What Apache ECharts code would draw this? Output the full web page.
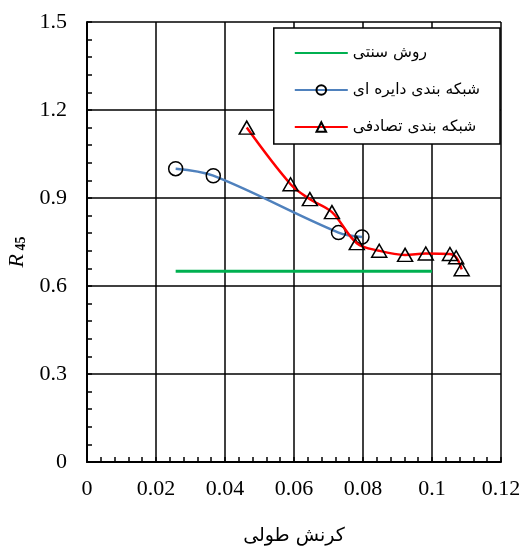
<!DOCTYPE html>
<html>
<head>
<meta charset="utf-8">
<script src="https://cdn.jsdelivr.net/npm/echarts@6/dist/echarts.min.js"></script>
<style>html,body{margin:0;padding:0;background:#fff}#c{width:525px;height:546px}</style>
</head>
<body>
<div id="c"></div>
<script>
// ---- data ----
const seriesNames = ['روش سنتی', 'شبکه بندی دایره ای', 'شبکه بندی تصادفی'];
const traditionalX = [0.0257, 0.1];
const traditionalY = [0.65, 0.65];
const circularX = [0.0257, 0.0366, 0.0729, 0.0797];
const circularY = [1.0, 0.976, 0.782, 0.767];
const randomX = [0.0463, 0.0590, 0.0646, 0.0710, 0.0782, 0.0847, 0.0922, 0.0982, 0.1052, 0.1070, 0.1086];
const randomY = [1.14, 0.947, 0.896, 0.852, 0.746, 0.720, 0.706, 0.711, 0.709, 0.698, 0.657];
const xTicks = [0, 0.02, 0.04, 0.06, 0.08, 0.1, 0.12];
const xTickLabels = ['0', '0.02', '0.04', '0.06', '0.08', '0.1', '0.12'];
const yTicks = [0, 0.3, 0.6, 0.9, 1.2, 1.5];
const yTickLabels = ['0', '0.3', '0.6', '0.9', '1.2', '1.5'];
const xAxisTitle = 'کرنش طولی';

const pair = (xs, ys) => xs.map((x, i) => [x, ys[i]]);
const lab = (ticks, labels) => v => {
  for (let i = 0; i < ticks.length; i++) if (Math.abs(ticks[i] - v) < 1e-9) return labels[i];
  return '';
};
const serif = 'Liberation Serif, serif';
const arabic = 'DejaVu Sans, sans-serif';

const axisCommon = {
  axisLine: { show: true, lineStyle: { color: '#000', width: 2 } },
  axisTick: { show: true, inside: true, length: 5, lineStyle: { color: '#000', width: 1.5 } },
  minorTick: { show: true, splitNumber: 5, length: 5, lineStyle: { color: '#000', width: 1.5 } },
  splitLine: { show: true, lineStyle: { color: '#000', width: 1.5 } }
};

const chart = echarts.init(document.getElementById('c'));
chart.setOption({
  animation: false,
  backgroundColor: '#fff',
  grid: { left: 87, right: 24, top: 22, bottom: 84, containLabel: false, outerBoundsMode: 'none' },
  legend: {
    orient: 'vertical',
    right: 25,
    top: 28,
    backgroundColor: '#fff',
    borderColor: '#000',
    borderWidth: 1.5,
    padding: [17, 20, 9, 20],
    itemGap: 21,
    itemWidth: 53,
    itemHeight: 12,
    textStyle: { fontFamily: arabic, fontSize: 15.5, color: '#000' },
    data: [
      { name: seriesNames[0], itemStyle: { opacity: 0 } },
      { name: seriesNames[1] },
      { name: seriesNames[2] }
    ]
  },
  xAxis: Object.assign({
    type: 'value', min: 0, max: 0.12, interval: 0.02,
    axisLabel: { formatter: lab(xTicks, xTickLabels), fontFamily: serif, fontSize: 22, color: '#000', margin: 16 },
    name: xAxisTitle, nameLocation: 'middle', nameGap: 65,
    nameTextStyle: { fontFamily: arabic, fontSize: 19, color: '#000' }
  }, axisCommon),
  yAxis: Object.assign({
    type: 'value', min: 0, max: 1.5, interval: 0.3,
    axisLabel: { formatter: lab(yTicks, yTickLabels), fontFamily: serif, fontSize: 22, color: '#000', margin: 20 },
    name: '{r|R}{s| 45}', nameLocation: 'middle', nameGap: 48, nameRotate: 90,
    nameTextStyle: {
      color: '#000',
      padding: [0, 20, 0, 0],
      rich: {
        r: { fontFamily: serif, fontStyle: 'italic', fontSize: 22, color: '#000', verticalAlign: 'bottom', lineHeight: 24 },
        s: { fontFamily: serif, fontWeight: 'bold', fontSize: 14, color: '#000', verticalAlign: 'bottom', lineHeight: 24, padding: [4, 0, 0, 0] }
      }
    }
  }, axisCommon),
  series: [
    {
      name: seriesNames[0], type: 'line', data: pair(traditionalX, traditionalY),
      showSymbol: false, symbol: 'none',
      lineStyle: { color: '#00B050', width: 3 }, itemStyle: { color: '#00B050' }, z: 2
    },
    {
      name: seriesNames[1], type: 'line', data: pair(circularX, circularY),
      smooth: 0.35, symbol: 'circle', symbolSize: 14,
      lineStyle: { color: '#4F81BD', width: 2.5 },
      itemStyle: { color: 'rgba(255,255,255,0)', borderColor: '#000', borderWidth: 1.5 }, z: 3
    },
    {
      name: seriesNames[2], type: 'line', data: pair(randomX, randomY),
      smooth: 0.35, symbol: 'triangle', symbolSize: [15, 13],
      lineStyle: { color: '#FF0000', width: 2.5 },
      itemStyle: { color: 'rgba(255,255,255,0)', borderColor: '#000', borderWidth: 1.5 }, z: 4
    }
  ]
});
</script>
</body>
</html>
